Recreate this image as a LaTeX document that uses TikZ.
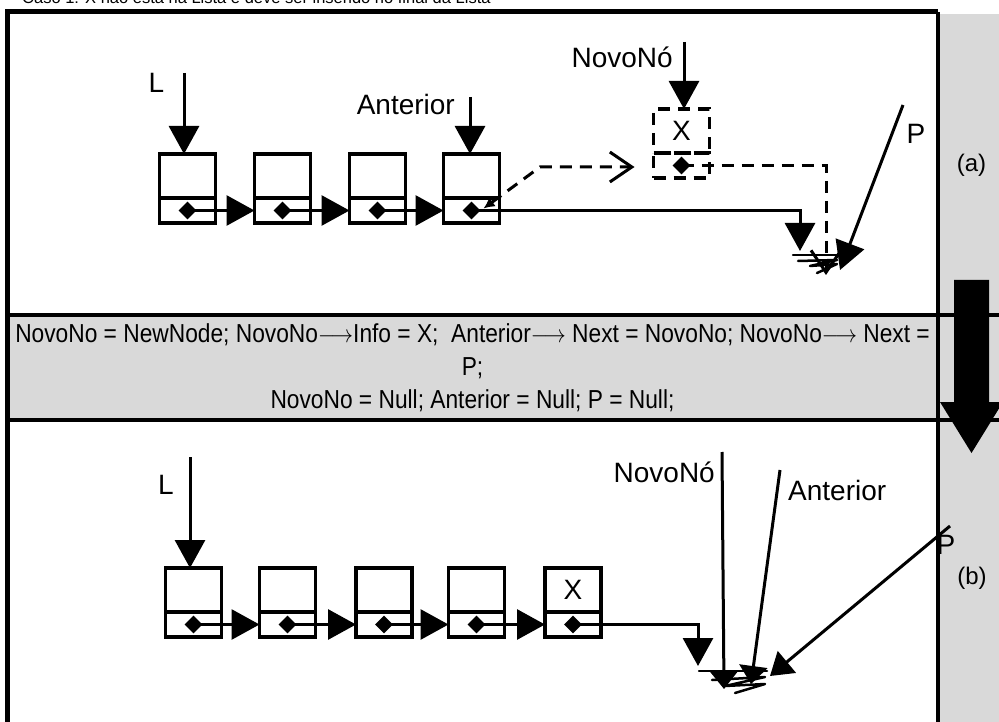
\documentclass[tikz,border=0pt]{standalone}
\usepackage{fontspec}
\setmainfont{Liberation Sans}
\usepackage{tikz}
\usetikzlibrary{positioning, arrows.meta, shapes.geometric, calc}
\definecolor{panelgray}{HTML}{D9D9D9}

\tikzset{
  cell/.style={draw, line width=3.5pt, minimum width=56pt, inner sep=0pt, outer sep=0pt,
               font=\fontsize{28}{30}\selectfont},
  infopart/.style={cell, minimum height=44pt},
  nextpart/.style={cell, minimum height=25pt},
  newcell/.style={dash pattern=on 12pt off 8pt},
  ptr/.style={diamond, fill, inner sep=0pt, minimum size=18pt},
  link/.style={line width=3pt, -{Triangle[length=28pt,width=30pt]}},
  flatlink/.style={line width=3pt, -{Triangle[length=18pt,width=28pt]}},
  barb/.tip={Straight Barb[length=22pt,width=30pt,line width=3pt]},
  newlink/.style={line width=3pt, dash pattern=on 12pt off 8pt, -barb},
  lbl/.style={font=\fontsize{28}{30}\selectfont, inner sep=0pt},
  ground/.style={line width=2.5pt, line cap=round}
}

\begin{document}
\begin{tikzpicture}[x=1pt, y=-1pt]
  \useasboundingbox (0,0) rectangle (999,722);

  \fill[panelgray] (940,14) rectangle (999,722);
  \fill[panelgray] (7,315) rectangle (938,420);
  \node[anchor=base west, inner sep=0pt, font=\fontsize{16.5}{18}\selectfont] (title) at (22,4)
    {Caso 1: X não está na Lista e deve ser inserido no final da Lista};

  \draw[line width=5pt] (7,722) -- (7,12) -- (938,12);
  \draw[line width=4pt] (5,315) -- (999,315);
  \draw[line width=4pt] (5,420) -- (999,420);

  \node[font=\fontsize{26}{33}\selectfont, align=center, inner sep=0pt] (code) at (472.5,368)
    {\scalebox{0.875}[1]{NovoNo = NewNode; NovoNo$\longrightarrow$Info = X;\ \ Anterior$\longrightarrow$ Next = NovoNo; NovoNo$\longrightarrow$ Next =}\\
     \scalebox{0.875}[1]{P;}\\
     \scalebox{0.875}[1]{NovoNo = Null; Anterior = Null; P = Null;}};

  % (a) antes
  \foreach \i/\x in {1/187.5, 2/282.5, 3/377.5, 4/471.5} {
    \node[infopart, anchor=north] (a\i) at (\x,154) {};
    \node[nextpart, anchor=north] (a\i-n) at (a\i.south) {};
    \node[ptr] (a\i-p) at (a\i-n.center) {};
  }
  \foreach \i/\j in {1/2, 2/3, 3/4}
    \draw[link] (a\i-p.center) -- (a\j-n.west);

  \node[infopart, newcell, anchor=north] (a5) at (681.5,109) {X};
  \node[nextpart, newcell, anchor=north] (a5-n) at (a5.south) {};
  \node[ptr] (a5-p) at (a5-n.center) {};

  \node[lbl] (La) at (156.5,83) {L};
  \coordinate (La-src) at (184,73);
  \draw[link] (La-src) -- (La-src |- a1.north);

  \node[lbl, anchor=base east] (anta) at (455,115) {Anterior};
  \coordinate (anta-src) at (470,97);
  \draw[link] (anta-src) -- (anta-src |- a4.north);

  \node[lbl, anchor=base east] (nova) at (673,68) {NovoNó};
  \coordinate (nova-src) at (684,42);
  \draw[link] (nova-src) -- (nova-src |- a5.north);

  \coordinate (gA) at (815,255);
  \coordinate (kinkA) at (540,167);
  \draw[newlink, {Latex[length=11pt,width=11pt]}-barb] ([xshift=12pt,yshift=2pt]a4-p.center) -- (kinkA) -- ([xshift=-19pt]kinkA -| a5-n.west);
  \draw[link, shorten >=4pt] (a4-p.center) -| ([xshift=-15pt]gA);
  \draw[newlink] (a5-p.center) -| ([xshift=11pt,yshift=-20pt]gA);

  \node[lbl] (Pa) at (916,134) {P};
  \coordinate (Pa-src) at (903,105);
  \draw[link] (Pa-src) -- ([xshift=25pt,yshift=-15pt]gA);

  \draw[ground] ([xshift=-22pt]gA) -- ([xshift=23pt]gA);
  \draw[ground, line join=round] ($(gA)+(-17,6)$) -- ++(39,-1) -- ++(-27,6) -- ++(27,-2) -- ++(-20,9);

  % (b) depois
  \foreach \i/\x in {1/193.5, 2/287.5, 3/384, 4/476.5, 5/573} {
    \node[infopart, anchor=north] (b\i) at (\x,568) {};
    \node[nextpart, anchor=north] (b\i-n) at (b\i.south) {};
    \node[ptr] (b\i-p) at (b\i-n.center) {};
  }
  \node[lbl] at (b5) {X};
  \foreach \i/\j in {1/2, 2/3, 3/4, 4/5}
    \draw[link] (b\i-p.center) -- (b\j-n.west);

  \node[lbl] (Lb) at (166,485) {L};
  \coordinate (Lb-src) at (190,457);
  \draw[link] (Lb-src) -- (Lb-src |- b1.north);

  \coordinate (gB) at (733,671);
  \draw[link, shorten >=5pt] (b5-p.center) -| ([xshift=-35pt]gB);

  \node[lbl, anchor=base east] (novb) at (715,482) {NovoNó};
  \coordinate (novb-src) at (722,452);
  \draw[flatlink] (novb-src) -- ([xshift=-9pt,yshift=-18pt]gB);

  \node[lbl, anchor=base west] (antb) at (788,500) {Anterior};
  \coordinate (antb-src) at (780,470);
  \draw[flatlink] (antb-src) -- ([xshift=18pt,yshift=-13pt]gB);

  \draw[ground] ([xshift=-34pt]gB) -- ([xshift=34pt]gB);
  \draw[ground, line join=round] ($(gB)+(-21,9)$) -- ++(53,-3) -- ++(-40,9) -- ++(40,-2) -- ++(-30,9);

  \fill (954,280) -- (989,280) -- (989,402) -- (1003,402) -- (971.5,453) -- (940,402) -- (954,402) -- cycle;
  \draw[line width=4pt] (938,12) -- (938,722);

  \node[lbl] (Pb) at (946,545) {P};
  \coordinate (Pb-src) at (950,526);
  \draw[link, -{Triangle[length=22pt,width=28pt]}] (Pb-src) -- ([xshift=37pt,yshift=-5pt]gB);

  \node[font=\fontsize{24}{26}\selectfont, inner sep=0pt] (capa) at (971.5,165) {(a)};
  \node[font=\fontsize{24}{26}\selectfont, inner sep=0pt] (capb) at (972,578) {(b)};
\end{tikzpicture}
\end{document}
